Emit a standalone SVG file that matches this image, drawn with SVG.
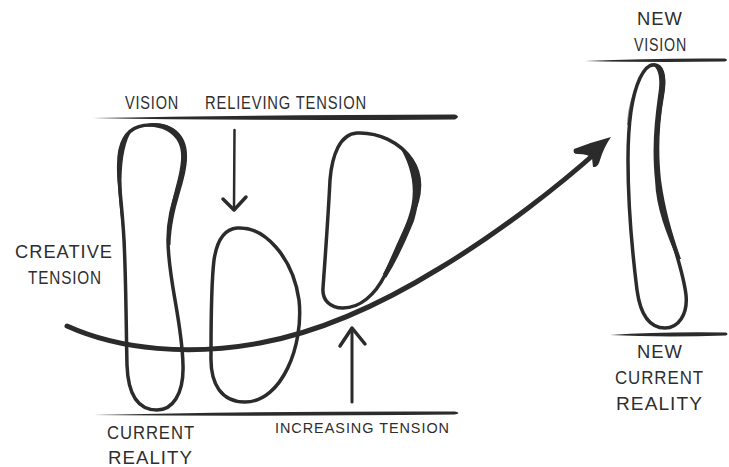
<svg xmlns="http://www.w3.org/2000/svg" width="729" height="467" viewBox="0 0 729 467">
<defs>
<style>
.ink{fill:none;stroke:#2b2b2b;stroke-linecap:round;stroke-linejoin:round}
.fill{fill:#2b2b2b;stroke:none}
.lbl{font-family:"Liberation Sans",Arial,sans-serif;font-size:18px;fill:#2e2e2e;letter-spacing:1px}
.sm{font-size:15px}
</style>
<linearGradient id="fadeL" x1="0" y1="0" x2="1" y2="0">
<stop offset="0" stop-color="#2b2b2b" stop-opacity="0.3"/>
<stop offset="0.15" stop-color="#2b2b2b" stop-opacity="1"/>
<stop offset="1" stop-color="#2b2b2b"/>
</linearGradient>
</defs>
<rect width="729" height="467" fill="#ffffff"/>

<g id="levels">
<path class="fill" d="M92,118 Q250,115 455,114.5 Q461,116.5 455,119.5 Q250,121 92,118 Z"/>
<path class="fill" d="M93,415 Q250,411 455,411.5 Q462,413 455,414.5 Q250,416.5 93,415 Z"/>
<path class="fill" d="M585,61 Q650,58 725,58.5 Q729,60 725,61.5 Q650,62.5 585,61 Z"/>
<path class="fill" d="M610,335 Q660,331.5 726,332.5 Q729,334 726,335.5 Q660,337.5 610,335 Z"/>
</g>

<g id="loops">
<path class="ink" stroke-width="3.5" d="M150,125 C170,123 186,135 184,160 C182,185 168,205 168,240 C168,280 182,320 183,365 C184,395 172,410 157,410 C138,410 128,395 127,365 C126,320 126,280 124,240 C122,200 116,170 120,150 C124,132 135,125 150,125 Z"/>
<path class="fill" d="M148,123.5 C173,121 189,135 187,160 C185,186 172,206 170.5,245 L167.5,245 C167,205 179,185 181,160 C183,138 168,127 148,126.5 Z"/>
<path class="fill" d="M133,129 C121,136 116,160 118,185 C119,205 122,222 123.5,245 L125.5,245 C124,220 121,200 121.5,180 C122,158 125,140 133,129 Z"/>
<path class="ink" stroke-width="3.5" d="M237,228 C265,226 293,258 299,300 C304,345 282,402 245,402 C222,402 210,385 211,355 C211,320 211,285 214,260 C217,240 225,229 237,228 Z"/>
<path class="ink" stroke-width="3.5" d="M357,133 C378,132 400,142 412,160 C424,178 420,200 410,220 C400,240 392,260 385,275 C375,295 360,308 343,308 C330,308 322,300 323,288 C325,260 328,220 330,180 C332,155 340,134 357,133 Z"/>
<path class="fill" d="M398,144 C412,152 427,177 414,221 C405,243 396,262 386,278 L383,274 C392,257 401,238 408,218 C417,193 413,168 398,144 Z"/>
<path class="ink" stroke-width="3.5" d="M653,65 C662,64 666,75 662,95 C657,125 655,150 658,180 C662,220 682,260 686,295 C688,315 678,328 665,328 C648,328 640,312 637,290 C632,250 628,200 628,160 C628,120 632,95 640,78 C644,70 648,65 653,65 Z"/>
<path class="fill" d="M650,63.5 C663,61 668,75 664,96 C659,125 658,150 661,180 C665,210 673,236 681,259 L677,259 C668,236 656,210 655,180 C652,150 654,125 658,96 C661,78 659,67 650,63.5 Z"/>
<path class="fill" fill-opacity="0.55" d="M643,74 C636,88 631,105 629.5,125 L627,125 C628,104 634,86 643,74 Z"/>
</g>

<g id="connectors">
<path class="ink" stroke="url(#fadeL)" stroke-width="5" d="M67,326 C120,350 190,356 260,343 C320,332 380,305 440,268 C500,232 560,185 600,149"/>
<path class="fill" d="M611,137 Q592,142 574,149 Q572,154 578,154 Q588,154 592,158 L593,167 Q598,168 600,160 Q604,147 611,137 Z"/>
<path class="ink" stroke-width="2.5" d="M234.5,130 L234,207"/>
<path class="ink" stroke-width="3.5" d="M223,199 L234,210 L246,197"/>
<path class="ink" stroke-width="3" d="M352,402 L352,331"/>
<path class="ink" stroke-width="3.5" d="M340,346 L352,328 L365,344"/>
</g>

<g id="labels">
<text class="lbl" x="125" y="109" textLength="54" lengthAdjust="spacingAndGlyphs">VISION</text>
<text class="lbl" x="205" y="109" textLength="162" lengthAdjust="spacingAndGlyphs">RELIEVING TENSION</text>
<text class="lbl" x="15" y="258" textLength="98" lengthAdjust="spacingAndGlyphs">CREATIVE</text>
<text class="lbl" x="28" y="284" textLength="74" lengthAdjust="spacingAndGlyphs">TENSION</text>
<text class="lbl" x="107" y="439" textLength="88" lengthAdjust="spacingAndGlyphs">CURRENT</text>
<text class="lbl" x="108" y="464" textLength="85" lengthAdjust="spacingAndGlyphs">REALITY</text>
<text class="lbl sm" x="275" y="433" textLength="175" lengthAdjust="spacingAndGlyphs">INCREASING TENSION</text>
<text class="lbl" x="637" y="25" textLength="46" lengthAdjust="spacingAndGlyphs">NEW</text>
<text class="lbl" x="634" y="51" textLength="53" lengthAdjust="spacingAndGlyphs">VISION</text>
<text class="lbl" x="637" y="358" textLength="46" lengthAdjust="spacingAndGlyphs">NEW</text>
<text class="lbl" x="615" y="384" textLength="89" lengthAdjust="spacingAndGlyphs">CURRENT</text>
<text class="lbl" x="616" y="410" textLength="87" lengthAdjust="spacingAndGlyphs">REALITY</text>
</g>
</svg>
